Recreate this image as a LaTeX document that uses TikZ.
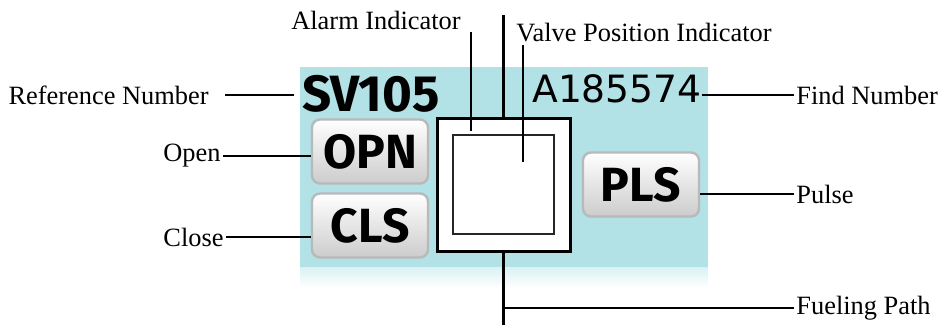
\documentclass[tikz,border=0pt]{standalone}
\usepackage{fontspec}
\setmainfont{Liberation Serif}
\newfontfamily\panelfont{Fira Sans}
\newfontfamily\findfont{DejaVu Sans}
\usepackage{tikz}
\usepackage{xcolor}
\definecolor{panelblue}{RGB}{178,225,230}

\begin{document}
\begin{tikzpicture}[x=0.5pt,y=-0.5pt,
  lbl/.style={font=\fontsize{13.2}{15}\selectfont,inner sep=1pt},
  btn/.style={draw=gray!55,line width=1.2pt,rounded corners=4pt,top color=white,bottom color=gray!40,
    minimum width=58pt,minimum height=32pt,inner sep=0pt,font=\panelfont\bfseries\fontsize{24}{24}\selectfont},
  lead/.style={line width=0.7pt},
  pipe/.style={line width=1.5pt}]
\useasboundingbox (0,0) rectangle (941,325);
\fill[panelblue] (300,67) rectangle (708,268);
\shade[top color=panelblue!45,bottom color=white] (300,268) rectangle (708,288);

\node[anchor=west,inner sep=0pt,font=\panelfont\bfseries\fontsize{25.5}{25.5}\selectfont] (sv) at (302,94) {SV105};
\node[anchor=east,inner sep=0pt,font=\findfont\fontsize{18.8}{18.8}\selectfont] (find) at (702,89) {A185574};
\node[btn] (opn) at (370,151.5) {OPN};
\node[btn] (cls) at (370,225.5) {CLS};
\node[btn] (pls) at (641,184.5) {PLS};
\node[draw,line width=1.5pt,fill=white,minimum size=66.5pt,inner sep=0pt] (outer) at (503.5,185.5) {};
\node[draw=black!85,line width=1.3pt,fill=white,minimum width=50.5pt,minimum height=49.5pt,inner sep=0pt] (inner) at (503.5,184.5) {};

\coordinate (pathtop) at (503.5,15);
\coordinate (pathbot) at (503.5,325);
\draw[pipe] (pathtop) -- (outer.north);
\draw[pipe] (outer.south) -- (pathbot);

\node[lbl,anchor=east] (reflbl) at (211,95) {Reference Number};
\node[lbl,anchor=west] (findlbl) at (794,95) {Find Number};
\node[lbl,anchor=east] (openlbl) at (223,156) {Open};
\node[lbl,anchor=east] (closelbl) at (226,237) {Close};
\node[lbl,anchor=west] (pulselbl) at (794,194) {Pulse};
\node[lbl,anchor=west] (fuellbl) at (794,308) {Fueling Path};
\node[lbl] (alarmlbl) at (376,20) {Alarm Indicator};
\node[lbl] (valvelbl) at (644,33) {Valve Position Indicator};
\coordinate (alarmtip) at (471,131);
\coordinate (valvetip) at (523,162);

\draw[lead,shorten <=7pt,shorten >=4pt] (reflbl.east) -- (reflbl.east -| sv.west);
\draw[lead] (find.east |- findlbl.west) -- (findlbl.west);
\draw[lead] (openlbl.east) -- (openlbl.east -| opn.west);
\draw[lead] (closelbl.east) -- (closelbl.east -| cls.west);
\draw[lead] (pls.east |- pulselbl.west) -- (pulselbl.west);
\draw[lead] (pathbot |- fuellbl.west) -- (fuellbl.west);
\draw[lead] (alarmtip |- alarmlbl.south) -- (alarmtip);
\draw[lead] (valvetip |- valvelbl.south) -- (valvetip);
\end{tikzpicture}
\end{document}
